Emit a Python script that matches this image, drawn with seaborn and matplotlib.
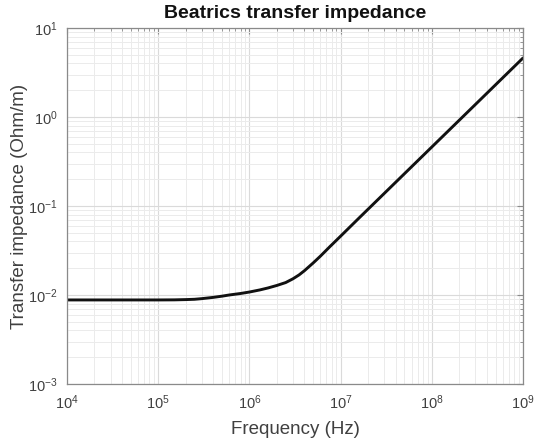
import matplotlib
matplotlib.use("Agg")
import matplotlib.pyplot as plt
import seaborn as sns
import numpy as np
from matplotlib.ticker import LogLocator, NullFormatter

freq_hz = [1e4, 2e4, 5e4, 1e5, 1.5e5, 2e5, 2.5e5, 3e5, 4e5, 5e5, 6e5, 8e5,
           1e6, 1.3e6, 1.6e6, 2e6, 2.5e6, 3e6, 3.5e6, 4e6, 5e6, 6e6, 7.6e6,
           1e7, 1.6e7, 2e7, 3e7, 5e7, 1e8, 3e8, 1e9]
impedance = [0.0088, 0.0088, 0.0088, 0.0088, 0.00882, 0.00888, 0.00895, 0.0091,
             0.0094, 0.0097, 0.0100, 0.0104, 0.0108, 0.0114, 0.0120, 0.0128,
             0.0138, 0.0152, 0.0168, 0.0187, 0.0229, 0.0273, 0.0348,
             0.0458, 0.0736, 0.092, 0.138, 0.23, 0.46, 1.38, 4.6]

title = "Beatrics transfer impedance"
xlabel = "Frequency (Hz)"
ylabel = "Transfer impedance (Ohm/m)"

sns.set_style("white")
plt.rcParams['font.family'] = ['Liberation Sans', 'DejaVu Sans']
plt.rcParams['mathtext.fontset'] = 'custom'
plt.rcParams['mathtext.rm'] = 'Liberation Sans'
plt.rcParams['mathtext.it'] = 'Liberation Sans'
plt.rcParams['mathtext.default'] = 'regular'

fig = plt.figure(figsize=(5.34, 4.40), dpi=100)
ax = fig.add_axes([67/534, 1-384/440, (523-67)/534, (384-28)/440])

sns.lineplot(x=freq_hz, y=impedance, ax=ax, color='#111111', linewidth=2.1)

ax.set_xscale('log')
ax.set_yscale('log')
ax.set_xlim(1e4, 1e9)
ax.set_ylim(1e-3, 1e1)

ax.xaxis.set_major_locator(LogLocator(base=10, numticks=20))
ax.yaxis.set_major_locator(LogLocator(base=10, numticks=20))
ax.xaxis.set_minor_locator(LogLocator(base=10, subs=np.arange(2, 10), numticks=50))
ax.yaxis.set_minor_locator(LogLocator(base=10, subs=np.arange(2, 10), numticks=50))
ax.xaxis.set_minor_formatter(NullFormatter())
ax.yaxis.set_minor_formatter(NullFormatter())

ax.grid(True, which='major', color='#dadada', linewidth=0.8)
ax.grid(True, which='minor', color='#ebebeb', linewidth=0.7)
ax.set_axisbelow(True)

for s in ax.spines.values():
    s.set_color('#8a8a8a')
    s.set_linewidth(0.9)

ax.tick_params(which='both', direction='in', top=True, right=True,
               colors='#8a8a8a', labelcolor='#404040', labelsize=10.5)
ax.tick_params(which='major', length=4, width=0.8, pad=7)
ax.tick_params(which='minor', length=2.5, width=0.6)

ax.set_title(title, fontsize=14, fontweight='bold', color='#111111', pad=7)
ax.set_xlabel(xlabel, fontsize=13.5, color='#404040', labelpad=6)
ax.set_ylabel(ylabel, fontsize=13.5, color='#404040', labelpad=0)

fig.savefig("out.png", dpi=100)
